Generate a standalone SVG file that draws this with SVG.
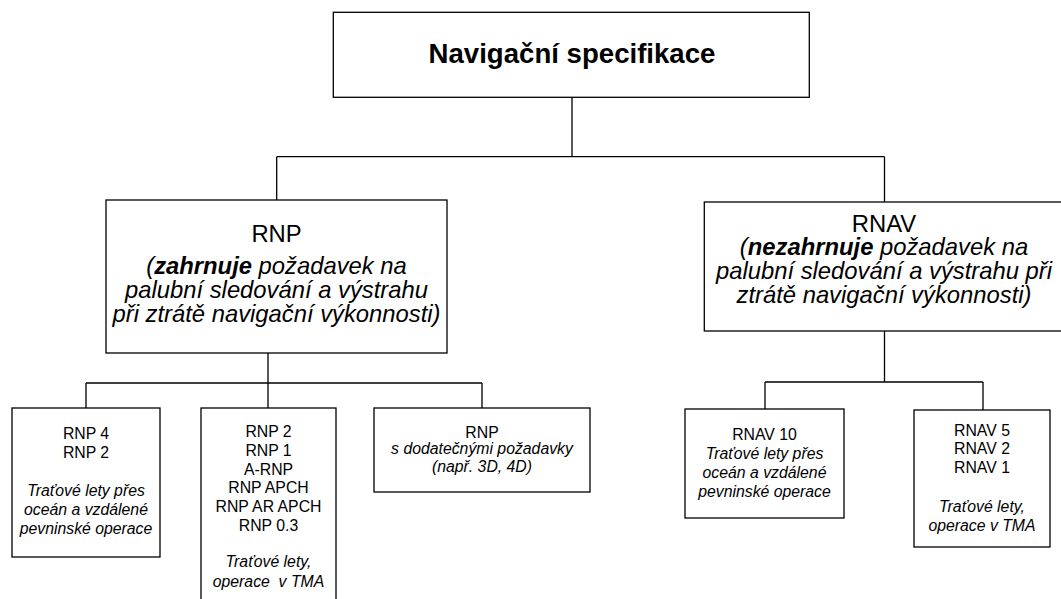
<svg xmlns="http://www.w3.org/2000/svg" width="1061" height="599" viewBox="0 0 1061 599">
<style>
.box{fill:#fff;stroke:#000;stroke-width:1.3}
.ln{fill:none;stroke:#000;stroke-width:1.3}
text{font-family:"Liberation Sans",Arial,sans-serif;fill:#000;text-anchor:middle}
.t{font-size:27.6px;font-weight:bold}
.m{font-size:23.8px}
.s{font-size:15.8px}
.i{font-style:italic}
.b{font-weight:bold}
</style>
<rect width="1061" height="599" fill="#fff"/>
<g id="connectors">
<path class="ln" d="M572,97.3V156.7M276.7,156.7H884.5M276.7,156.7V200M884.5,156.7V202"/>
<path class="ln" d="M268,353V383M86,383H482M86,383V408M268,383V408M482,383V408"/>
<path class="ln" d="M884.5,331V382M765,382H983M765,382V409M983,382V410"/>
</g>
<g id="root">
<rect class="box" x="333.3" y="12.3" width="476" height="85"/>
<text class="t" x="572" y="63">Navigační specifikace</text>
</g>
<g id="rnp">
<rect class="box" x="106" y="200" width="341" height="153"/>
<text class="m" x="276.5" y="242">RNP</text>
<text class="m i" x="276.5" y="274">(<tspan class="b">zahrnuje</tspan> požadavek na</text>
<text class="m i" x="276.5" y="298">palubní sledování a výstrahu</text>
<text class="m i" x="276.5" y="322">při ztrátě navigační výkonnosti)</text>
</g>
<g id="rnav">
<rect class="box" x="704.3" y="202" width="360" height="129"/>
<text class="m" x="884" y="232">RNAV</text>
<text class="m i" x="884" y="255">(<tspan class="b">nezahrnuje</tspan> požadavek na</text>
<text class="m i" x="884" y="279">palubní sledování a výstrahu při</text>
<text class="m i" x="884" y="303">ztrátě navigační výkonnosti)</text>
</g>
<g id="rnp4">
<rect class="box" x="12" y="408" width="148" height="149"/>
<text class="s" x="86" y="439">RNP 4</text>
<text class="s" x="86" y="458">RNP 2</text>
<text class="s i" x="86" y="496">Traťové lety přes</text>
<text class="s i" x="86" y="515">oceán a vzdálené</text>
<text class="s i" x="86" y="534">pevninské operace</text>
</g>
<g id="rnp2">
<rect class="box" x="201" y="408" width="135" height="200"/>
<text class="s" x="268.5" y="437">RNP 2</text>
<text class="s" x="268.5" y="456">RNP 1</text>
<text class="s" x="268.5" y="475">A-RNP</text>
<text class="s" x="268.5" y="493">RNP APCH</text>
<text class="s" x="268.5" y="512">RNP AR APCH</text>
<text class="s" x="268.5" y="531">RNP 0.3</text>
<text class="s i" x="268.5" y="567">Traťové lety,</text>
<text class="s i" x="268.5" y="587">operace&#160; v TMA</text>
</g>
<g id="rnp-extra">
<rect class="box" x="374" y="408" width="216" height="84"/>
<text class="s" x="482" y="438">RNP</text>
<text class="s i" x="482" y="454">s dodatečnými požadavky</text>
<text class="s i" x="482" y="472">(např. 3D, 4D)</text>
</g>
<g id="rnav10">
<rect class="box" x="685" y="409" width="159" height="109"/>
<text class="s" x="764.5" y="440">RNAV 10</text>
<text class="s i" x="764.5" y="459">Traťové lety přes</text>
<text class="s i" x="764.5" y="478">oceán a vzdálené</text>
<text class="s i" x="764.5" y="497">pevninské operace</text>
</g>
<g id="rnav5">
<rect class="box" x="914" y="410" width="136" height="137"/>
<text class="s" x="982" y="436">RNAV 5</text>
<text class="s" x="982" y="454">RNAV 2</text>
<text class="s" x="982" y="473">RNAV 1</text>
<text class="s i" x="982" y="512">Traťové lety,</text>
<text class="s i" x="982" y="531">operace v TMA</text>
</g>
</svg>
